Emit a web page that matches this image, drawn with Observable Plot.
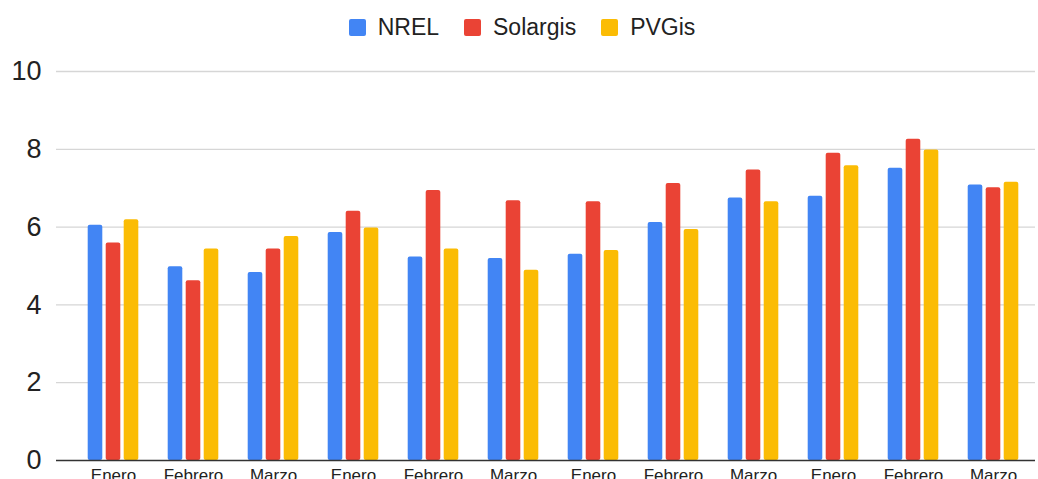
<!DOCTYPE html>
<html>
<head>
<meta charset="utf-8">
<script src="https://cdn.jsdelivr.net/npm/d3@7"></script>
<script src="https://cdn.jsdelivr.net/npm/@observablehq/plot@0.6"></script>
<style>
  html, body { margin: 0; padding: 0; overflow: hidden; background: #fff; width: 1038px; height: 479px; }
  body { font-family: "Liberation Sans", Arial, sans-serif; }
  #legend { height: 50px; display: flex; justify-content: center; align-items: center; gap: 25px; padding-top: 4px; box-sizing: border-box; padding-left: 6px; }
  .item { display: flex; align-items: center; gap: 12px; font-size: 23px; color: #222; }
  .sw { width: 17px; height: 17px; border-radius: 2px; }
</style>
</head>
<body>
<div id="legend"></div>
<div id="chart"></div>
<script>
const months = ["Enero", "Febrero", "Marzo", "Enero", "Febrero", "Marzo", "Enero", "Febrero", "Marzo", "Enero", "Febrero", "Marzo"];
const seriesNames = ["NREL", "Solargis", "PVGis"];
const colors = ["#4285F4", "#EA4335", "#FBBC04"];
const nrel     = [6.05, 4.98, 4.83, 5.86, 5.23, 5.19, 5.30, 6.12, 6.75, 6.79, 7.51, 7.08];
const solargis = [5.59, 4.62, 5.44, 6.41, 6.94, 6.68, 6.65, 7.12, 7.47, 7.90, 8.26, 7.01];
const pvgis    = [6.19, 5.44, 5.76, 5.98, 5.44, 4.89, 5.40, 5.94, 6.65, 7.58, 7.98, 7.15];
const yTicks = [0, 2, 4, 6, 8, 10];

const seriesValues = [nrel, solargis, pvgis];
const groups = d3.range(months.length);

const legend = document.getElementById("legend");
seriesNames.forEach((s, j) => {
  const it = document.createElement("div");
  it.className = "item";
  const sw = document.createElement("div");
  sw.className = "sw";
  sw.style.background = colors[j];
  const t = document.createElement("span");
  t.textContent = s;
  it.appendChild(sw); it.appendChild(t);
  legend.appendChild(it);
});

// bar width 15px, 18px between bar starts inside each group
const barMarks = seriesNames.map((s, j) =>
  Plot.barY(groups, {
    x: i => i,
    y: i => seriesValues[j][i],
    fill: colors[j],
    insetLeft: 32.7,
    insetRight: 32.7,
    dx: (j - 1) * 18,
    rx: 2
  })
);

const chart = Plot.plot({
  width: 1038,
  height: 450,
  marginLeft: 70,
  marginRight: 3,
  marginTop: 21,
  marginBottom: 40,
  style: {fontFamily: "'Liberation Sans', Arial, sans-serif", color: "#222", background: "transparent"},
  x: {domain: groups, padding: 0, axis: null},
  y: {domain: [0, 10], axis: null},
  marks: [
    Plot.ruleY(yTicks.filter(d => d > 0), {stroke: "#d6d6d6", strokeWidth: 1.3, insetLeft: -14}),
    ...barMarks,
    Plot.ruleY([0], {stroke: "#333", strokeWidth: 1.3, insetLeft: -14}),
    Plot.axisY({ticks: yTicks, tickSize: 0, tickPadding: 29, fontSize: 27, tickFormat: d => String(d), label: null}),
    Plot.axisX({ticks: groups, tickSize: 0, tickPadding: 8, fontSize: 17, tickFormat: i => months[i], label: null})
  ]
});
document.getElementById("chart").appendChild(chart);
</script>
</body>
</html>
